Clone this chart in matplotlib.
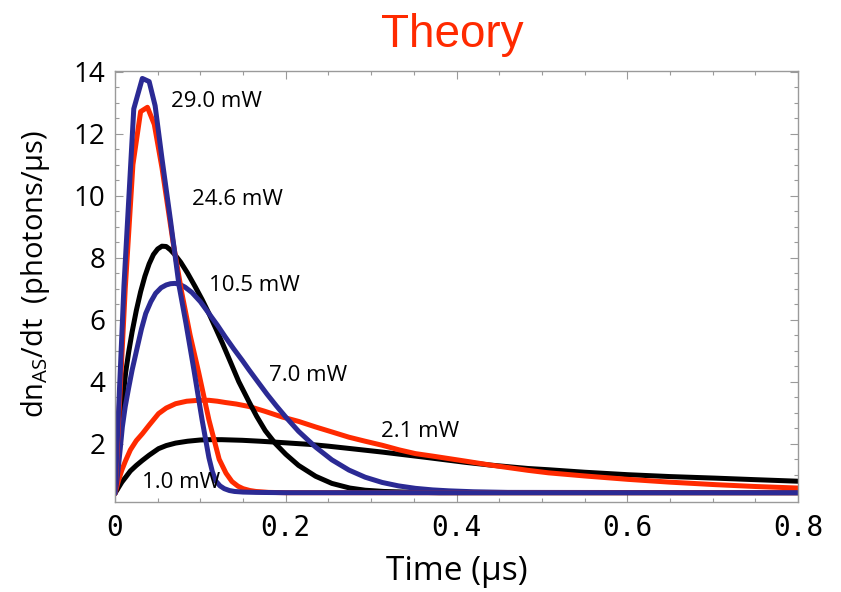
import matplotlib
matplotlib.use("Agg")
import matplotlib.pyplot as plt
from matplotlib.ticker import MultipleLocator, FixedLocator, FixedFormatter

# ---- data: anti-Stokes photon rate vs time for several pump powers ----
t_290 = [0.0, 0.0105, 0.022, 0.032, 0.040, 0.047, 0.055, 0.065, 0.075, 0.083,
         0.0925, 0.102, 0.110, 0.114, 0.118, 0.123, 0.128, 0.134, 0.140, 0.150,
         0.165, 0.200, 0.400, 0.800]
r_290 = [0.40, 7.10, 12.80, 13.78, 13.68, 12.90, 11.20, 9.20, 7.10, 5.90,
         4.37, 2.77, 1.55, 1.10, 0.80, 0.64, 0.55, 0.49, 0.46, 0.44,
         0.43, 0.42, 0.42, 0.42]

t_246 = [0.0, 0.012, 0.021, 0.030, 0.038, 0.046, 0.055, 0.068, 0.078, 0.088,
         0.098, 0.110, 0.122, 0.130, 0.137, 0.144, 0.150, 0.158, 0.165, 0.180,
         0.200, 0.250, 0.400, 0.800]
r_246 = [0.40, 7.00, 11.00, 12.71, 12.85, 12.30, 10.90, 8.50, 6.90, 5.50,
         4.30, 2.77, 1.50, 1.05, 0.78, 0.63, 0.55, 0.49, 0.46, 0.43,
         0.42, 0.42, 0.42, 0.42]

t_105 = [0.0, 0.003, 0.006, 0.009, 0.0125, 0.016, 0.020, 0.025, 0.030, 0.035,
         0.040, 0.045, 0.050, 0.055, 0.060, 0.065, 0.070, 0.077, 0.085, 0.094,
         0.102, 0.110, 0.118, 0.126, 0.135, 0.145, 0.157, 0.166, 0.176, 0.188,
         0.200, 0.215, 0.235, 0.254, 0.275, 0.293, 0.315, 0.340, 0.380, 0.800]
r_105 = [0.40, 1.40, 2.40, 3.40, 4.30, 4.95, 5.60, 6.30, 6.90, 7.40,
         7.80, 8.10, 8.28, 8.37, 8.36, 8.25, 8.10, 7.85, 7.50, 7.06,
         6.65, 6.20, 5.72, 5.23, 4.65, 4.00, 3.35, 2.88, 2.42, 2.00,
         1.66, 1.30, 0.95, 0.72, 0.57, 0.50, 0.46, 0.44, 0.42, 0.42]

t_070 = [0.0, 0.003, 0.006, 0.0086, 0.012, 0.016, 0.020, 0.026, 0.031, 0.036,
         0.042, 0.0476, 0.054, 0.060, 0.065, 0.070, 0.075, 0.082, 0.090, 0.100,
         0.110, 0.120, 0.129, 0.139, 0.149, 0.157, 0.168, 0.178, 0.189, 0.200,
         0.215, 0.235, 0.254, 0.274, 0.293, 0.313, 0.332, 0.352, 0.372, 0.391,
         0.420, 0.460, 0.800]
r_070 = [0.40, 1.00, 1.80, 2.54, 3.20, 3.80, 4.37, 5.10, 5.70, 6.20,
         6.58, 6.85, 7.03, 7.12, 7.16, 7.17, 7.15, 7.05, 6.88, 6.58,
         6.20, 5.82, 5.45, 5.06, 4.69, 4.38, 3.97, 3.60, 3.22, 2.86,
         2.40, 1.89, 1.48, 1.15, 0.92, 0.75, 0.64, 0.56, 0.51, 0.48,
         0.45, 0.43, 0.42]

t_021 = [0.0, 0.004, 0.008, 0.0125, 0.018, 0.025, 0.032, 0.040, 0.051, 0.060,
         0.071, 0.084, 0.098, 0.110, 0.120, 0.129, 0.142, 0.157, 0.175, 0.196,
         0.215, 0.235, 0.254, 0.274, 0.293, 0.313, 0.333, 0.352, 0.372, 0.391,
         0.410, 0.440, 0.484, 0.508, 0.550, 0.601, 0.650, 0.703, 0.750, 0.800]
r_021 = [0.40, 0.80, 1.15, 1.46, 1.80, 2.10, 2.32, 2.60, 2.97, 3.15,
         3.29, 3.37, 3.40, 3.40, 3.37, 3.33, 3.28, 3.20, 3.05, 2.86,
         2.72, 2.54, 2.38, 2.21, 2.08, 1.95, 1.80, 1.68, 1.60, 1.52,
         1.44, 1.31, 1.14, 1.06, 0.96, 0.85, 0.76, 0.68, 0.62, 0.57]

t_010 = [0.0, 0.004, 0.008, 0.0125, 0.018, 0.025, 0.032, 0.040, 0.051, 0.060,
         0.071, 0.085, 0.100, 0.110, 0.125, 0.149, 0.170, 0.188, 0.210, 0.227,
         0.250, 0.280, 0.313, 0.340, 0.367, 0.390, 0.410, 0.440, 0.484, 0.508,
         0.550, 0.601, 0.650, 0.703, 0.750, 0.800]
r_010 = [0.40, 0.58, 0.76, 0.92, 1.12, 1.30, 1.46, 1.63, 1.84, 1.94,
         2.02, 2.08, 2.12, 2.13, 2.13, 2.11, 2.08, 2.05, 2.01, 1.98,
         1.92, 1.83, 1.73, 1.64, 1.55, 1.47, 1.40, 1.31, 1.20, 1.16,
         1.08, 1.00, 0.94, 0.89, 0.84, 0.79]

power_labels = ["29.0 mW", "24.6 mW", "10.5 mW", "7.0 mW", "2.1 mW", "1.0 mW"]
label_t = [0.0656, 0.0905, 0.110, 0.180, 0.311, 0.032]
label_r = [13.05, 9.86, 7.11, 4.21, 2.38, 0.76]

x_ticks = [0.0, 0.2, 0.4, 0.6, 0.8]
x_ticklabels = ["0", "0.2", "0.4", "0.6", "0.8"]
y_ticks = [2, 4, 6, 8, 10, 12, 14]
y_ticklabels = ["2", "4", "6", "8", "10", "12", "14"]

BLUE = "#2b2a94"
RED = "#ff2a00"
BLACK = "#000000"

plt.rcParams["mathtext.fontset"] = "custom"
plt.rcParams["mathtext.rm"] = "Open Sans"

W, H = 841, 592
fig = plt.figure(figsize=(W / 100, H / 100), dpi=100)
ax = fig.add_axes([115 / W, 1 - 502 / H, (798 - 115) / W, (502 - 71) / H])

lw = 3.6
# drawn from the weakest pump to the strongest
series = [(t_010, r_010, BLACK), (t_021, r_021, RED), (t_105, r_105, BLACK),
          (t_070, r_070, BLUE), (t_246, r_246, RED), (t_290, r_290, BLUE)]
for tt, rr, c in series:
    ax.plot(tt, rr, color=c, lw=lw, solid_joinstyle="round",
            solid_capstyle="round")

for txt, tx, ty in zip(power_labels, label_t, label_r):
    ax.text(tx, ty, txt, ha="left", va="center", fontsize=16,
            family="Open Sans", color="black")

ax.set_xlim(0, 0.8)
ax.set_ylim(0.12, 14.02)

ax.xaxis.set_major_locator(FixedLocator(x_ticks))
ax.xaxis.set_major_formatter(FixedFormatter(x_ticklabels))
ax.xaxis.set_minor_locator(MultipleLocator(0.05))
ax.yaxis.set_major_locator(FixedLocator(y_ticks))
ax.yaxis.set_major_formatter(FixedFormatter(y_ticklabels))
ax.yaxis.set_minor_locator(MultipleLocator(0.5))

frame = "#9a9a9a"
for s in ax.spines.values():
    s.set_color(frame)
    s.set_linewidth(1.0)
ax.tick_params(which="both", direction="in", top=True, right=True, color=frame,
               width=0.8)
ax.tick_params(which="major", length=6)
ax.tick_params(which="minor", length=3)
ax.tick_params(axis="y", which="major", pad=7, labelsize=20)
ax.tick_params(axis="x", which="major", pad=9, labelsize=20)
for lab in ax.get_yticklabels():
    lab.set_family("Open Sans")
for lab in ax.get_xticklabels():
    lab.set_family("DejaVu Sans Mono")

fig.text(457 / W, 1 - 572 / H, "Time (\u03bcs)", ha="center", va="center",
         fontsize=24, family="Open Sans")
fig.text(36 / W, 1 - 274 / H,
         "dn$_\\mathregular{AS}$/dt  (photons/\u03bcs)", rotation=90,
         ha="center", va="center", fontsize=21, family="Open Sans")

fig.text(452.5 / W, 1 - 47 / H, "Theory", ha="center", va="baseline",
         fontsize=33, family="Liberation Sans", color=RED)

fig.savefig("out.png", dpi=100)
